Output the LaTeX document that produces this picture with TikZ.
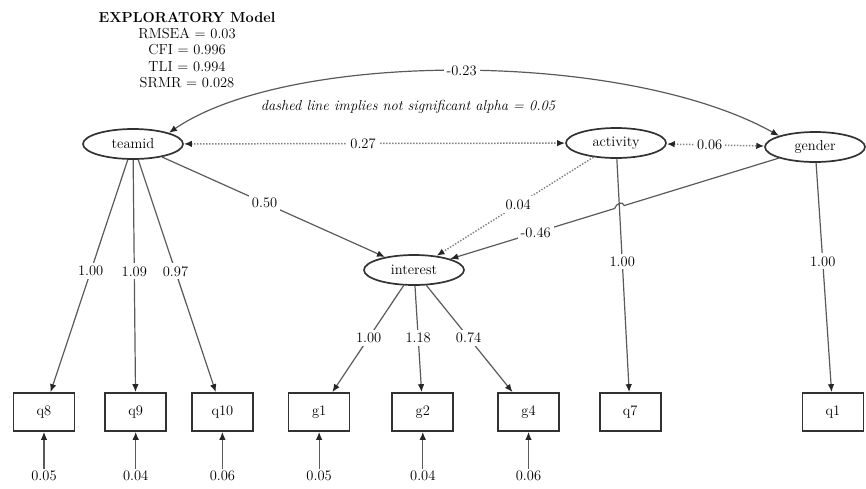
\documentclass[tikz,border=0pt]{standalone}
\usepackage{tikz}
\usetikzlibrary{positioning,arrows.meta,calc,shapes.geometric}
\definecolor{edgec}{RGB}{90,90,90}
\definecolor{nsigc}{RGB}{130,130,130}
\definecolor{borderc}{RGB}{50,50,50}
\tikzset{
  semtip/.tip     = {Latex[length=8pt,width=6.5pt,color=black!85]},
  latent/.style   = {ellipse, draw=borderc, line width=1.7pt, fill=white,
                     minimum width=100pt, minimum height=30pt, inner sep=0pt},
  manifest/.style = {rectangle, draw=borderc, line width=1.7pt, fill=white,
                     minimum width=61pt, minimum height=38pt, inner sep=0pt},
  loading/.style  = {-semtip, draw=edgec, line width=1.2pt},
  covar/.style    = {semtip-semtip, draw=edgec, line width=1.2pt},
  nsig/.style     = {draw=nsigc, line width=1.5pt, dash pattern=on 1.4pt off 1.6pt},
  coef/.style     = {fill=white, inner sep=3pt},
  errv/.style     = {inner sep=2pt},
}

\begin{document}
\begin{tikzpicture}[x=1pt, y=-1pt, every node/.style={font=\fontsize{14.5}{16.3}\selectfont}]
\useasboundingbox (0,0) rectangle (866,488);

% ---- fit indices and note ----
\node[align=center] (fitidx) at (187,50)
  {\textbf{EXPLORATORY Model}\\RMSEA = 0.03\\CFI = 0.996\\TLI = 0.994\\SRMR = 0.028};
\node (note) at (408,107) {\itshape dashed line implies not significant alpha = 0.05};

% ---- latent variables ----
\node[latent] (teamid)   at (133,144) {teamid};
\node[latent] (activity) at (616,143) {activity};
\node[latent] (gender)   at (815,147) {gender};
\node[latent] (interest) at (414,270) {interest};

% ---- observed items ----
\node[manifest] (q8)  at (44,412) {q8};
\node[manifest, right=29pt of q8]  (q9)  {q9};
\node[manifest, right=24pt of q9]  (q10) {q10};
\node[manifest, right=34pt of q10] (g1)  {g1};
\node[manifest, right=41pt of g1]  (g2)  {g2};
\node[manifest, right=43pt of g2]  (g4)  {g4};
\node[manifest, right=39pt of g4]  (q7)  {q7};
\node[manifest, right=140pt of q7] (q1)  {q1};

% ---- residual variances ----
\node[errv, below=37pt of q8]  (e8)  {0.05};
\node[errv, below=37pt of q9]  (e9)  {0.04};
\node[errv, below=37pt of q10] (e10) {0.06};
\node[errv, below=37pt of g1]  (eg1) {0.05};
\node[errv, below=37pt of g2]  (eg2) {0.04};
\node[errv, below=37pt of g4]  (eg4) {0.06};
\foreach \e/\v in {e8/q8, e9/q9, e10/q10, eg1/g1, eg2/g2, eg4/g4}
  \draw[loading] (\e) -- (\v);

% ---- loadings ----
\draw[loading] (teamid) -- node[coef, pos=0.48] {1.00} (q8);
\draw[loading] (teamid) -- node[coef, pos=0.48] {1.09} (q9);
\draw[loading] (teamid) -- node[coef, pos=0.48] {0.97} (q10);
\draw[loading] (interest) -- node[coef, pos=0.49] {1.00} (g1);
\draw[loading] (interest) -- node[coef, pos=0.49] {1.18} (g2);
\draw[loading] (interest) -- node[coef, pos=0.49] {0.74} (g4);
\draw[loading] (activity) -- node[coef, pos=0.44] {1.00} (q7);
\draw[loading] (gender) -- node[coef, pos=0.43] {1.00} (q1);

% ---- structural paths ----
\draw[loading] (teamid) -- node[coef, pos=0.46] {0.50} (interest);
\draw[nsig, -semtip] (activity) -- node[coef, pos=0.48] {0.04} (interest);
\coordinate (cross) at (intersection of gender.center--interest.center and activity.center--q7.center);
\draw[loading] (gender) -- ($(cross)!5pt!(gender)$)
  to[out=105, in=75, looseness=1.3] ($(cross)!5pt!(interest)$)
  -- node[coef, pos=0.48] {-0.46} (interest);

% ---- covariances ----
\draw[nsig, semtip-semtip] (teamid) -- node[coef, pos=0.47] {0.27} (activity);
\draw[nsig, semtip-semtip] (activity) -- node[coef, pos=0.44] {0.06} (gender);
\draw[covar] (teamid.north east) .. controls (290,50) and (625,50) ..
  node[coef, pos=0.5] {-0.23} (gender.north west);

\end{tikzpicture}
\end{document}
